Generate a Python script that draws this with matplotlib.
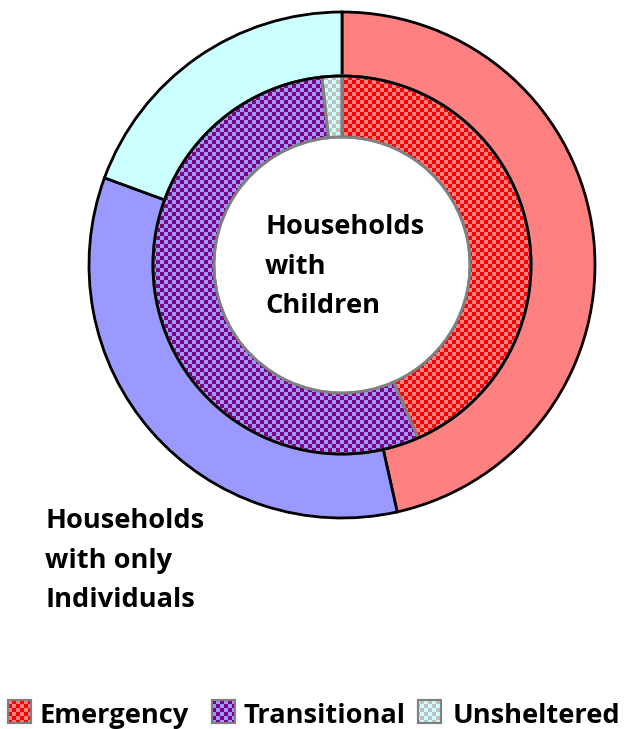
import numpy as np
import matplotlib
matplotlib.use('Agg')
import matplotlib.pyplot as plt
from matplotlib.patches import Rectangle

plt.rcParams['font.family'] = ['Open Sans', 'DejaVu Sans']

categories = ['Emergency', 'Transitional', 'Unsheltered']
individuals = [46.5, 34.1, 19.4]   # outer ring: Households with only Individuals
children = [43.4, 54.9, 1.7]       # inner ring: Households with Children

base_colors = ['#FF8080', '#9999FF', '#CCFFFF']
check_colors = ['#FF0000', '#800080', '#C0C0C0']

W, H = 631, 729
fig = plt.figure(figsize=(W / 100, H / 100), dpi=100)
ax = fig.add_axes([0, 0, 1, 1])

cx, cy = 342, H - 265

# outer ring
ax.pie(individuals, radius=253, center=(cx, cy), startangle=90, counterclock=False,
       colors=base_colors, wedgeprops=dict(width=64, edgecolor='black', linewidth=2),
       frame=True)

# inner ring
wedges, _ = ax.pie(children, radius=189, center=(cx, cy), startangle=90, counterclock=False,
                   colors=base_colors, wedgeprops=dict(width=61, edgecolor='#808080', linewidth=2),
                   frame=True)

# checkerboard overlay, 4px squares
jj, ii = np.meshgrid(np.arange(W), np.arange(H))
mask = ((ii // 4 + jj // 4) % 2) == 0


def checker(col):
    rgba = np.zeros((H, W, 4))
    rgba[..., :3] = matplotlib.colors.to_rgb(col)
    rgba[..., 3] = mask.astype(float)
    return rgba


for w, cc in zip(wedges, check_colors):
    im = ax.imshow(checker(cc), extent=(0, W, 0, H), origin='upper',
                   interpolation='nearest', zorder=w.get_zorder() + 0.1)
    im.set_clip_path(w)
    w2 = matplotlib.patches.Wedge(w.center, w.r, w.theta1, w.theta2, width=w.width,
                                  facecolor='none', edgecolor='#808080', linewidth=2,
                                  zorder=w.get_zorder() + 0.2)
    ax.add_patch(w2)

# black line between rings
circ = matplotlib.patches.Circle((cx, cy), 189, facecolor='none', edgecolor='black',
                                 linewidth=2, zorder=5)
ax.add_patch(circ)

# labels
for k, line in enumerate(['Households', 'with', 'Children']):
    ax.text(265, H - (234 + 39.5 * k), line, fontsize=19.6, fontweight='bold',
            ha='left', va='baseline')
for k, line in enumerate(['Households', 'with only', 'Individuals']):
    ax.text(45, H - (528 + 39.5 * k), line, fontsize=19.6, fontweight='bold',
            ha='left', va='baseline')

# legend
sq_x = [8, 212, 418]
tx_x = [40, 243, 453]
for name, bc, cc, sx, tx in zip(categories, base_colors, check_colors, sq_x, tx_x):
    r = Rectangle((sx, H - 723), 23, 23, facecolor=bc, edgecolor='#808080',
                  linewidth=1.5, zorder=3)
    ax.add_patch(r)
    im = ax.imshow(checker(cc), extent=(0, W, 0, H), origin='upper',
                   interpolation='nearest', zorder=3.1)
    im.set_clip_path(r)
    ax.add_patch(Rectangle((sx, H - 723), 23, 23, facecolor='none', edgecolor='#808080',
                           linewidth=1.5, zorder=3.2))
    ax.text(tx, H - 723, name, fontsize=19.6, fontweight='bold', ha='left', va='baseline')

ax.set_xlim(0, W)
ax.set_ylim(0, H)
ax.set_aspect('equal')
ax.axis('off')
fig.savefig('out.png', dpi=100)
